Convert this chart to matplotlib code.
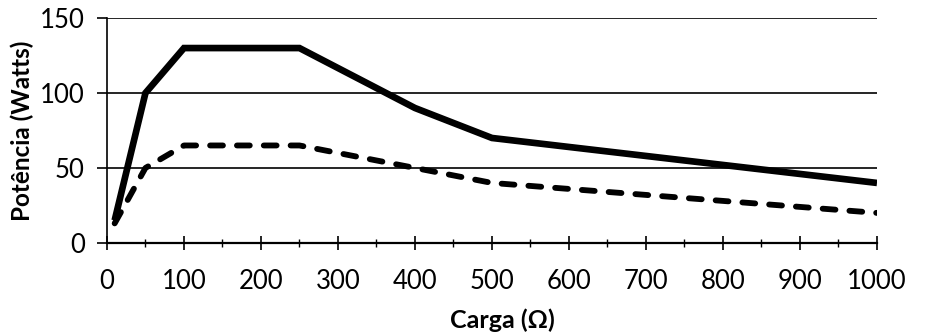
import matplotlib
matplotlib.use('Agg')
import matplotlib.pyplot as plt
from matplotlib.ticker import MultipleLocator

# Datos
carga = [10, 50, 100, 250, 400, 500, 1000]
potencia_solida = [15, 100, 130, 130, 90, 70, 40]
potencia_trazos = [13, 50, 65, 65, 50, 40, 20]

xticks = [0, 100, 200, 300, 400, 500, 600, 700, 800, 900, 1000]
yticks = [0, 50, 100, 150]

plt.rcParams['font.family'] = ['Lato', 'DejaVu Sans']

fig = plt.figure(figsize=(9.3, 3.35), dpi=100)
ax = fig.add_axes([0.115, 0.275, 0.828, 0.671])

# Lineas de la grafica
ax.plot(carga, potencia_solida, color='black', linewidth=4.8,
        solid_joinstyle='miter', solid_capstyle='butt', zorder=3)
ax.plot(carga, potencia_trazos, color='black', linewidth=4.2,
        dashes=(2.2, 2.4), dash_capstyle='round', zorder=3)

ax.set_xlim(0, 1000)
ax.set_ylim(0, 150)
ax.set_xticks(xticks)
ax.set_yticks(yticks)
ax.xaxis.set_minor_locator(MultipleLocator(50))

ax.grid(axis='y', color='black', linewidth=1.2)
ax.set_axisbelow(True)

for s in ['top', 'right']:
    ax.spines[s].set_visible(False)
ax.spines['left'].set_linewidth(1.2)
ax.spines['bottom'].set_linewidth(1.6)

ax.tick_params(axis='x', which='major', direction='inout', length=10, width=1.2,
               labelsize=18.5, pad=14)
ax.tick_params(axis='x', which='minor', direction='inout', length=6, width=1)
ax.tick_params(axis='y', direction='out', length=7, width=1.2, labelsize=18.5, pad=9)

ax.set_xlabel('Carga (Ω)', fontsize=18, fontweight='bold')
ax.xaxis.set_label_coords(0.514, -0.29)
ax.set_ylabel('Potência (Watts)', fontsize=17.5, fontweight='bold')
ax.yaxis.set_label_coords(-0.095, 0.5)

fig.savefig('out.png', dpi=100, facecolor='white')
